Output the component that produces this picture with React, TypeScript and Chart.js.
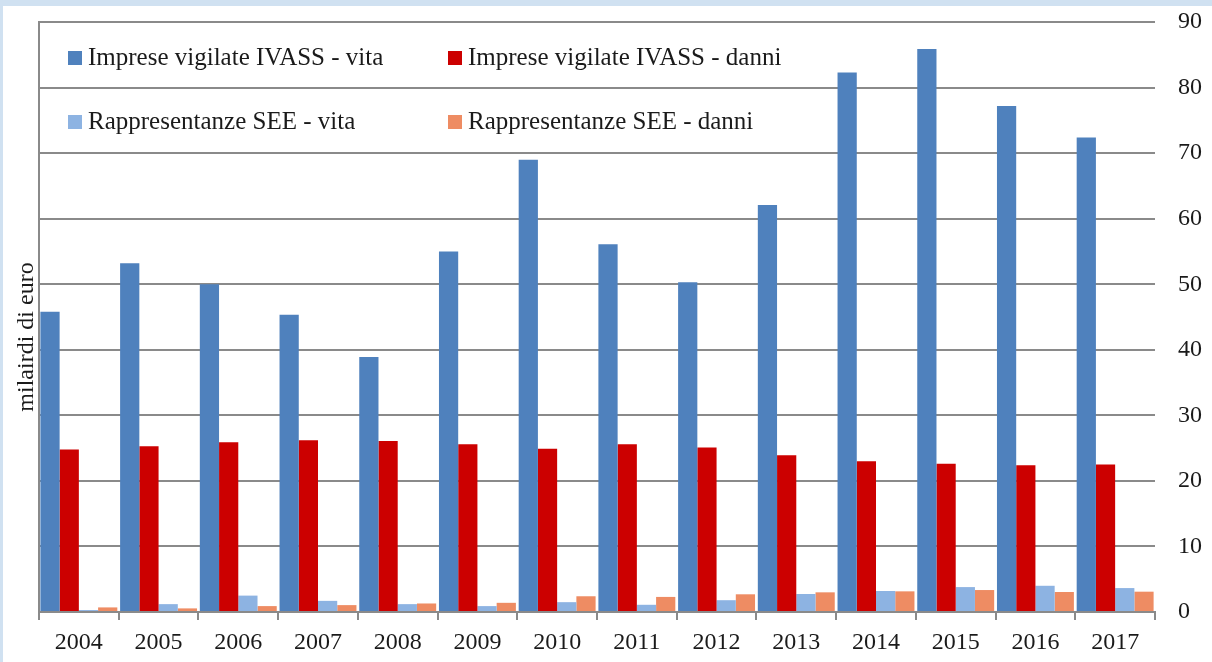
import React, { useEffect, useRef } from "react";
import { Chart, registerables } from "chart.js";

Chart.register(...registerables);

const years = ["2004", "2005", "2006", "2007", "2008", "2009", "2010", "2011", "2012", "2013", "2014", "2015", "2016", "2017"];
const ivassVita = [45.8, 53.2, 50.0, 45.35, 38.9, 55.0, 69.0, 56.1, 50.3, 62.1, 82.3, 85.9, 77.2, 72.4];
const ivassDanni = [24.8, 25.3, 25.9, 26.2, 26.1, 25.6, 24.9, 25.6, 25.1, 23.9, 23.0, 22.6, 22.4, 22.5];
const seeVita = [0.3, 1.2, 2.5, 1.7, 1.2, 0.9, 1.5, 1.1, 1.8, 2.75, 3.2, 3.8, 4.0, 3.65];
const seeDanni = [0.7, 0.55, 0.9, 1.05, 1.3, 1.4, 2.4, 2.3, 2.7, 3.0, 3.15, 3.35, 3.05, 3.1];
const seriesLabels = [
  "Imprese vigilate IVASS - vita",
  "Imprese vigilate IVASS - danni",
  "Rappresentanze SEE - vita",
  "Rappresentanze SEE - danni",
];
const seriesColors = ["#4f81bd", "#cc0000", "#8db3e2", "#ee8c63"];
const yTitle = "milairdi di euro";

const FONT = "'Liberation Serif', 'DejaVu Serif', serif";
const GRID = "#8a8a8a";
const TEXT = "#1a1a1a";

const overlayPlugin = {
  id: "overlayLegendTitle",
  afterDraw(chart: any) {
    const ctx = chart.ctx;
    ctx.save();
    // legend in two columns inside the plot
    const cols = [68, 448];
    const rows = [58, 122];
    ctx.font = `25px ${FONT}`;
    ctx.textBaseline = "middle";
    ctx.textAlign = "left";
    chart.data.datasets.forEach((ds: any, i: number) => {
      const x = cols[i % 2];
      const y = rows[Math.floor(i / 2)];
      ctx.fillStyle = ds.backgroundColor;
      ctx.fillRect(x, y - 7, 14, 14);
      ctx.fillStyle = TEXT;
      ctx.fillText(ds.label, x + 20, y);
    });
    // rotated y title on the left
    ctx.font = `24px ${FONT}`;
    ctx.translate(33, 337);
    ctx.rotate(-Math.PI / 2);
    ctx.textAlign = "center";
    ctx.textBaseline = "alphabetic";
    ctx.fillStyle = TEXT;
    ctx.fillText(yTitle, 0, 0);
    ctx.restore();
  },
};

export default function App() {
  const ref = useRef<HTMLCanvasElement | null>(null);

  useEffect(() => {
    document.body.style.margin = "0";
    const canvas = ref.current;
    if (!canvas) return;
    const values = [ivassVita, ivassDanni, seeVita, seeDanni];
    const chart = new Chart(canvas, {
      type: "bar",
      data: {
        labels: years,
        datasets: values.map((v, i) => ({
          label: seriesLabels[i],
          data: v,
          backgroundColor: seriesColors[i],
          borderWidth: 0,
          yAxisID: "y",
          categoryPercentage: 0.965,
          barPercentage: 1.0,
        })),
      },
      options: {
        responsive: false,
        animation: false,
        layout: { padding: { left: 39, right: 0, top: 22, bottom: 0 } },
        plugins: {
          legend: { display: false },
          tooltip: { enabled: false },
        },
        scales: {
          x: {
            position: "bottom",
            offset: true,
            grid: {
              display: true,
              offset: true,
              drawOnChartArea: false,
              drawTicks: true,
              tickLength: 8,
              color: GRID,
              lineWidth: 2,
            },
            border: { display: true, color: GRID, width: 2 },
            ticks: {
              font: { family: FONT, size: 24 },
              color: TEXT,
              padding: 8,
              maxRotation: 0,
              autoSkip: false,
            },
            afterFit: (s: any) => {
              s.height = 50;
              s.paddingLeft = 0;
              s.paddingRight = 0;
            },
          },
          y: {
            position: "right",
            min: 0,
            max: 90,
            grid: {
              color: GRID,
              lineWidth: 2,
              drawTicks: false,
            },
            border: { display: false },
            ticks: {
              stepSize: 10,
              font: { family: FONT, size: 24 },
              color: TEXT,
              padding: 23,
            },
            afterFit: (s: any) => {
              s.width = 57;
              s.paddingTop = 0;
              s.paddingBottom = 0;
            },
          },
          yLeft: {
            position: "left",
            min: 0,
            max: 90,
            grid: { drawOnChartArea: false, drawTicks: false },
            border: { display: true, color: GRID, width: 2 },
            ticks: { display: false },
            afterFit: (s: any) => {
              s.width = 0;
              s.paddingTop = 0;
              s.paddingBottom = 0;
            },
          },
        },
      },
      plugins: [overlayPlugin],
    } as any);
    return () => chart.destroy();
  }, []);

  return (
    <div style={{ position: "relative", width: 1212, height: 662, background: "#ffffff", overflow: "hidden" }}>
      <canvas ref={ref} width={1212} height={662} style={{ position: "absolute", left: 0, top: 0, width: 1212, height: 662 }} />
      <div style={{ position: "absolute", left: 0, top: 0, width: 1212, height: 6, background: "#d0e1f1" }} />
      <div style={{ position: "absolute", left: 0, top: 0, width: 3, height: 662, background: "#d0e1f1" }} />
    </div>
  );
}
